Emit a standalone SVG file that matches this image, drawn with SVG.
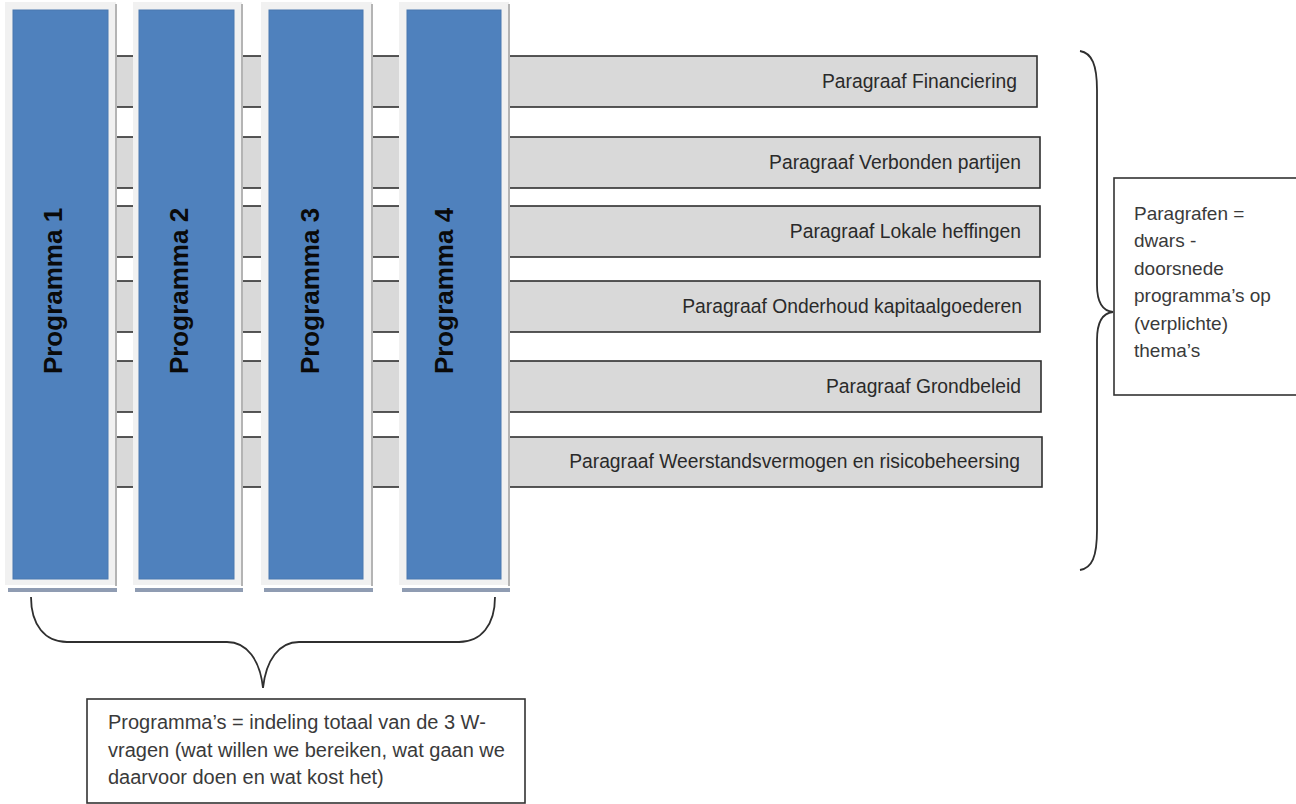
<svg xmlns="http://www.w3.org/2000/svg" width="1296" height="804" viewBox="0 0 1296 804">
<defs>
<style>
.bar{fill:#d9d9d9;stroke:#2f2f2f;stroke-width:1.6}
.bartxt{font-family:"Liberation Sans",Arial,sans-serif;font-size:19.3px;fill:#2a2a2a;text-anchor:end}
.frame{fill:#f1f1f1}
.fshadow{fill:#b4b4b4}
.bshadow{fill:#8f9cb2}
.blue{fill:#4f81bd;stroke:#4a78b0;stroke-width:1}
.coltxt{font-family:"Liberation Sans",Arial,sans-serif;font-size:26px;font-weight:bold;fill:#0a0a0a;text-anchor:middle}
.note{fill:#fff;stroke:#333;stroke-width:1.6}
.notetxt{font-family:"Liberation Sans",Arial,sans-serif;font-size:19px;fill:#3a3a3a}
.brace{fill:none;stroke:#2f2f2f;stroke-width:1.8}
</style>
</defs>
<rect width="1296" height="804" fill="#fff"/>

<g id="bars">
<g id="bar-financiering"><rect class="bar" x="60" y="56" width="977" height="51"/><text class="bartxt" x="1017" y="88">Paragraaf Financiering</text></g>
<g id="bar-verbonden"><rect class="bar" x="60" y="137" width="980" height="51"/><text class="bartxt" x="1021" y="169">Paragraaf Verbonden partijen</text></g>
<g id="bar-lokale"><rect class="bar" x="60" y="206" width="980" height="51"/><text class="bartxt" x="1021" y="238">Paragraaf Lokale heffingen</text></g>
<g id="bar-onderhoud"><rect class="bar" x="60" y="281" width="980" height="51"/><text class="bartxt" x="1022" y="313">Paragraaf Onderhoud kapitaalgoederen</text></g>
<g id="bar-grondbeleid"><rect class="bar" x="60" y="361" width="981" height="51"/><text class="bartxt" x="1021" y="393">Paragraaf Grondbeleid</text></g>
<g id="bar-weerstand"><rect class="bar" x="60" y="437" width="982" height="50"/><text class="bartxt" x="1020" y="468">Paragraaf Weerstandsvermogen en risicobeheersing</text></g>
</g>

<g id="programma-1">
<rect class="frame" x="5" y="2" width="111" height="583"/>
<rect class="fshadow" x="115" y="4" width="2" height="582"/>
<rect class="bshadow" x="8" y="588" width="109" height="4"/>
<rect class="blue" x="13" y="10" width="95" height="569"/>
<text class="coltxt" transform="translate(62,291) rotate(-90)">Programma 1</text>
</g>
<g id="programma-2">
<rect class="frame" x="133" y="2" width="109" height="583"/>
<rect class="fshadow" x="241" y="4" width="2" height="582"/>
<rect class="bshadow" x="135" y="588" width="108" height="4"/>
<rect class="blue" x="139" y="10" width="95" height="569"/>
<text class="coltxt" transform="translate(188,291) rotate(-90)">Programma 2</text>
</g>
<g id="programma-3">
<rect class="frame" x="261" y="2" width="111" height="583"/>
<rect class="fshadow" x="371" y="4" width="2" height="582"/>
<rect class="bshadow" x="264" y="588" width="109" height="4"/>
<rect class="blue" x="269" y="10" width="94" height="569"/>
<text class="coltxt" transform="translate(319,291) rotate(-90)">Programma 3</text>
</g>
<g id="programma-4">
<rect class="frame" x="399" y="2" width="110" height="583"/>
<rect class="fshadow" x="508" y="4" width="2" height="582"/>
<rect class="bshadow" x="402" y="588" width="108" height="4"/>
<rect class="blue" x="407" y="10" width="94" height="569"/>
<text class="coltxt" transform="translate(453,291) rotate(-90)">Programma 4</text>
</g>

<g id="note-paragrafen">
<rect class="note" x="1114" y="178" width="190" height="217"/>
<text class="notetxt" x="1134" y="220">Paragrafen =</text>
<text class="notetxt" x="1134" y="247">dwars -</text>
<text class="notetxt" x="1134" y="275">doorsnede</text>
<text class="notetxt" x="1134" y="302">programma’s op</text>
<text class="notetxt" x="1134" y="330">(verplichte)</text>
<text class="notetxt" x="1134" y="357">thema’s</text>
</g>

<g id="note-programmas">
<rect class="note" x="87" y="699" width="438" height="104"/>
<text class="notetxt" style="font-size:20px" x="108" y="729">Programma’s = indeling totaal van de 3 W-</text>
<text class="notetxt" style="font-size:20px" x="108" y="757">vragen (wat willen we bereiken, wat gaan we</text>
<text class="notetxt" style="font-size:20px" x="108" y="784">daarvoor doen en wat kost het)</text>
</g>

<g id="connectors">
<path class="brace" d="M1080,51 C1092,53 1097,65 1097,90 L1097,285 C1097,302 1103,311 1113,312 C1103,313 1097,322 1097,340 L1097,530 C1097,557 1092,568 1080,570"/>
<path class="brace" d="M31,597 C31,625 45,642 67,642 L227,642 C247,642 260,660 263,688 C266,660 279,642 299,642 L459,642 C481,642 495,625 495,597"/>
</g>
</svg>
